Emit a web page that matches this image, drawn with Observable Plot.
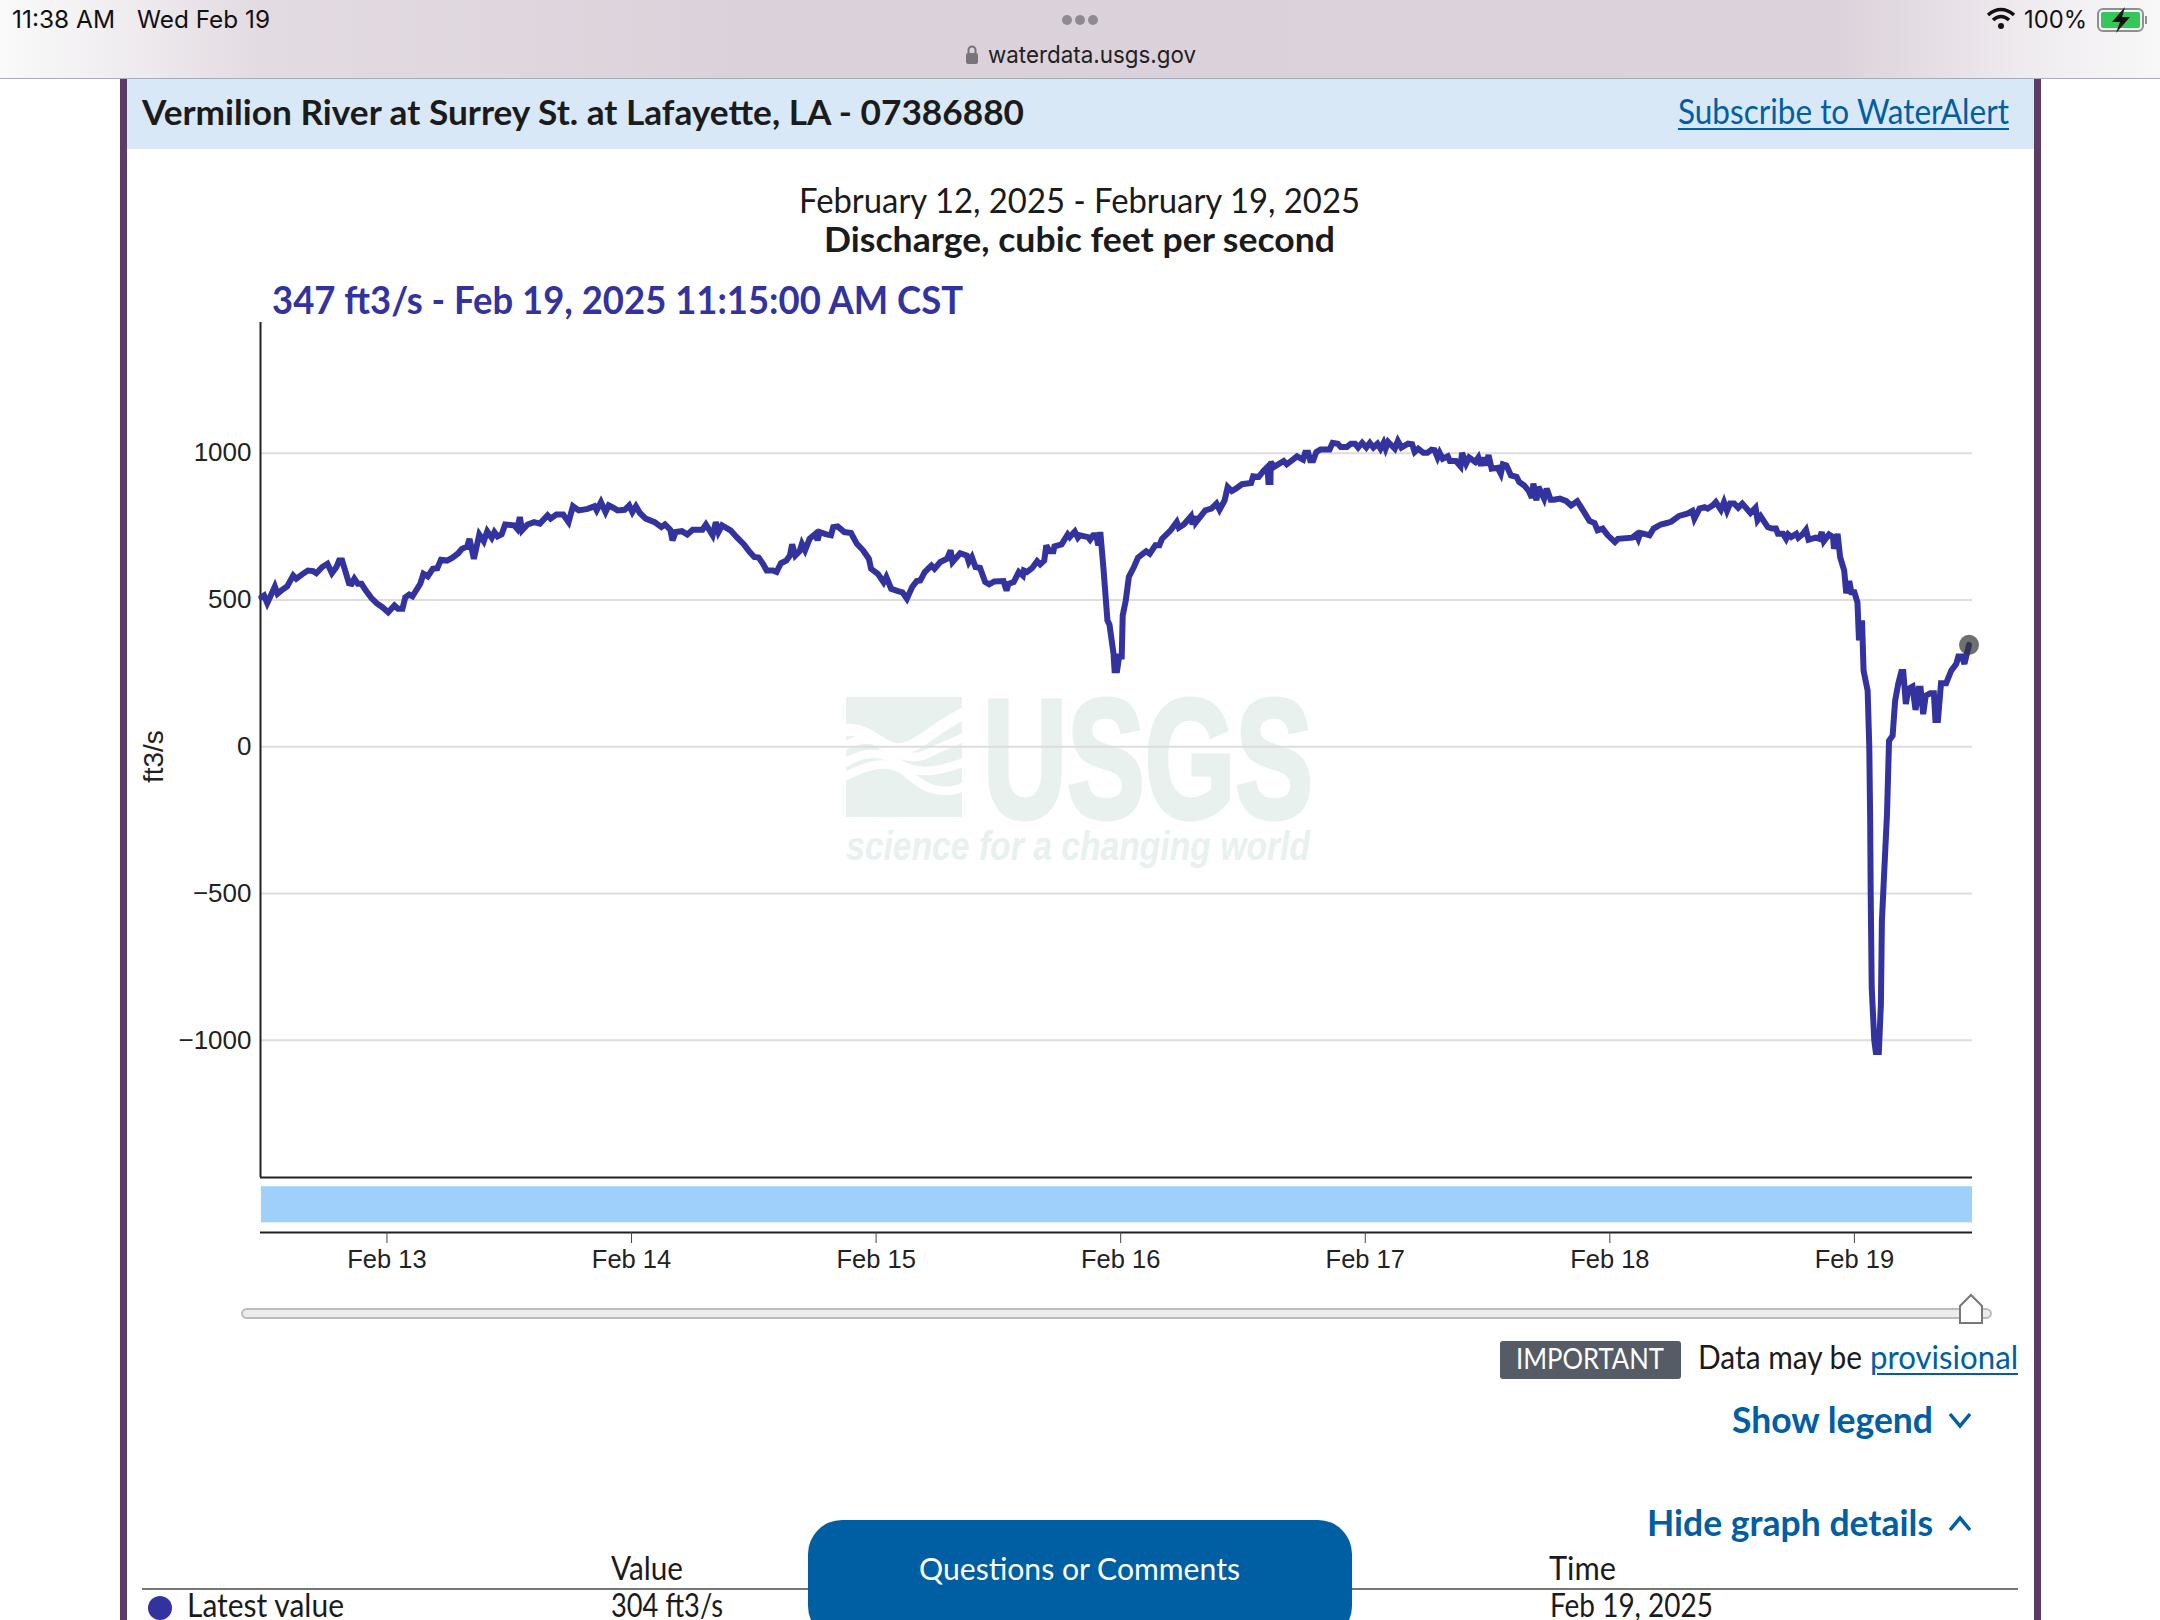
<!DOCTYPE html>
<html>
<head>
<meta charset="utf-8">
<script src="https://cdn.jsdelivr.net/npm/d3@7"></script>
<script src="https://cdn.jsdelivr.net/npm/@observablehq/plot@0.6"></script>
<style>
html,body{margin:0;padding:0;background:#fff;overflow:hidden;width:2160px;height:1620px}
#page{position:relative;width:2160px;height:1620px;overflow:hidden}
#page>div{position:absolute}
#chart{left:0;top:0;z-index:2}
#chart svg{display:block;max-width:none}
.t{white-space:nowrap;transform-origin:0 0;font-family:Lato,"Noto Sans",sans-serif;z-index:3}
</style>
</head>
<body>
<div id="page">
  <div style="left:0;top:0;width:2160px;height:78px;background:linear-gradient(90deg,#fafafa 0%,#f3f1f3 4%,#e3dbe2 12%,#dbd1da 35%,#dcd2db 85%,#f1eef1 95%,#f8f8f8 100%);border-bottom:1.5px solid #a9acb6"></div>
  <div style="left:120px;top:79px;width:7px;height:1541px;background:#5a3c64"></div>
  <div style="left:2034px;top:79px;width:7px;height:1541px;background:#5a3c64"></div>
  <div style="left:127px;top:79px;width:1907px;height:70px;background:#d9e8f6"></div>
  <div style="left:1500px;top:1341px;width:181px;height:38px;background:#565c65;border-radius:3px"></div>
  <div style="left:142px;top:1588px;width:1876px;height:2px;background:#757575"></div>
  <div style="left:148px;top:1596px;width:24px;height:24px;border-radius:50%;background:#3333a0"></div>
  <div style="left:808px;top:1520px;width:544px;height:120px;border-radius:34px;background:#005ea2;z-index:3"></div>
  <div id="chart"></div>
</div>
<script>
// Discharge readings: [hours since Feb 12 00:00 CST, ft3/s]
const feb12 = [[11.68,509],[11.94,515],[12.25,489],[12.6,515],[13.0,546],[13.26,521],[13.7,534],[14.2,546],[14.8,583],[15.1,572],[15.67,587],[16.24,600],[16.76,598],[17.07,591],[17.64,612],[18.16,623],[18.6,591],[19.04,612],[19.3,634],[19.6,634],[19.9,600],[20.27,557],[20.53,555],[20.8,572],[21.14,555],[21.5,555],[21.93,532],[22.46,507],[22.98,489],[23.55,475]];
const feb13 = [[24.12,458],[24.73,481],[25.08,470],[25.52,470],[25.8,509],[26.18,518],[26.5,512],[27.27,555],[27.58,589],[28.0,580],[28.5,606],[28.94,608],[29.3,637],[29.9,634],[30.43,644],[31.0,659],[31.35,674],[31.87,682],[32.1,708],[32.53,640],[33.06,723],[33.5,700],[33.84,734],[34.28,712],[34.54,731],[34.85,716],[35.25,723],[35.6,757],[36.47,754],[36.78,742],[37.04,782],[37.26,737],[37.79,757],[38.44,765],[39.0,760],[39.76,788],[40.06,777],[40.63,791],[41.29,791],[41.82,765],[42.25,819],[42.82,805],[43.7,810],[44.36,819],[44.58,805],[45.0,833],[45.45,799],[45.76,822],[46.2,814],[46.63,805],[47.33,807],[47.77,822]];
const feb14 = [[48.08,799],[48.43,819],[48.82,796],[49.39,777],[50.27,765],[50.93,748],[51.28,757],[51.8,739],[52.02,703],[52.33,731],[52.94,734],[53.47,723],[54.0,739],[54.96,739],[55.3,757],[55.96,720],[56.27,765],[56.53,731],[56.88,754],[57.72,737],[58.37,712],[59.03,689],[59.6,663],[60.04,646],[60.47,644],[60.9,623],[61.26,600],[61.87,600],[62.23,595],[62.66,625],[63.19,634],[63.54,651],[63.76,689],[64.07,651],[64.5,666],[64.72,691],[65.03,669],[65.47,708],[66.04,725],[66.26,703],[66.47,731],[67.13,723],[67.57,720],[67.79,748],[68.23,750],[68.88,731],[69.54,728],[70.11,691],[70.72,669],[71.29,640],[71.51,606]];
const feb15 = [[72.17,589],[72.74,560],[73.0,578],[73.48,538],[74.14,530],[74.58,526],[75.02,504],[75.54,544],[75.98,564],[76.33,566],[76.77,595],[77.43,617],[77.73,606],[78.3,629],[78.96,640],[79.31,669],[79.5,629],[80.25,659],[80.9,651],[81.1,629],[81.4,646],[81.75,612],[82.2,609],[82.7,561],[83.1,553],[83.6,563],[84.5,564],[84.8,532],[85.0,555],[85.5,561],[86.0,595],[86.4,583],[86.5,600],[86.8,595],[87.3,608],[87.8,632],[88.1,621],[88.5,634],[88.7,686],[89.0,666],[89.4,666],[89.5,682],[90.2,689],[90.8,723],[91.0,714],[91.5,733],[91.8,712],[92.0,720],[92.8,714],[93.0,705],[93.3,720],[93.6,720],[93.8,686],[94.0,731],[94.3,612],[94.7,430],[94.9,416],[95.3,316],[95.4,260],[95.65,260],[95.85,307]];
const feb16 = [[96.1,307],[96.2,447],[96.5,498],[96.8,578],[97.3,612],[97.7,644],[98.5,666],[98.85,657],[99.4,686],[99.8,686],[100.05,708],[100.9,737],[101.5,765],[101.7,746],[102.2,757],[102.9,785],[103.05,757],[103.35,785],[103.4,765],[104.3,805],[104.9,811],[105.4,828],[105.7,807],[106.2,839],[106.5,885],[106.9,871],[107.3,879],[107.9,894],[108.8,898],[109.0,921],[109.55,919],[110.05,941],[110.4,953],[110.5,902],[110.7,902],[110.72,970],[111.05,953],[112.0,973],[112.3,962],[112.9,978],[113.3,989],[113.9,978],[114.1,1001],[114.4,1001],[114.6,976],[114.9,976],[115.2,1004],[115.6,1012],[116.5,1012],[116.8,1035],[117.3,1032],[117.6,1021],[118.2,1021],[118.6,1032],[119.0,1032]];
const feb17 = [[119.3,1019],[119.7,1035],[120.1,1019],[120.45,1035],[120.8,1019],[121.2,1032],[121.5,1015],[121.8,1035],[122.0,1015],[122.25,1038],[122.9,1015],[123.2,1041],[123.55,1019],[124.2,1032],[124.6,1030],[124.85,1004],[125.2,1015],[125.7,1001],[126.1,1001],[126.5,1012],[126.8,1010],[127.1,985],[127.3,1001],[127.6,981],[128.1,989],[128.3,973],[128.9,973],[129.35,955],[129.5,1001],[129.9,964],[130.2,985],[130.8,970],[131.1,985],[131.35,958],[131.6,985],[131.8,958],[132.1,993],[132.4,947],[133.0,950],[133.3,930],[133.5,962],[133.85,958],[134.3,924],[134.85,919],[135.1,902],[135.6,890],[136.05,871],[136.35,848],[136.5,896],[136.8,839],[137.0,885],[137.55,845],[137.8,879],[138.2,841],[138.5,841],[139.1,845],[139.7,837],[140.2,822],[140.8,836],[141.4,803],[142.0,769],[142.5,762],[142.8,737],[143.3,743],[143.8,720]];
const feb18 = [[144.5,697],[144.8,708],[146.2,712],[146.6,723],[146.8,708],[147.0,728],[147.4,725],[147.9,720],[148.3,743],[149.0,757],[149.6,762],[150.05,767],[150.8,786],[151.6,794],[152.1,803],[152.3,777],[152.8,811],[153.3,816],[153.6,811],[154.1,822],[154.4,833],[154.9,807],[155.2,833],[155.5,803],[155.8,828],[156.2,828],[156.6,814],[157.0,828],[157.8,796],[158.3,814],[158.5,771],[158.8,785],[159.5,748],[159.9,743],[160.3,743],[160.5,725],[161.0,725],[161.3,708],[161.5,723],[161.8,714],[162.3,725],[162.5,712],[162.9,723],[163.25,739],[163.5,705],[164.2,712],[164.55,708],[164.8,731],[165.0,700],[165.5,723],[165.9,714],[166.0,674],[166.35,725],[166.6,646],[167.0,600],[167.2,523],[167.5,564],[167.7,526],[168.0,526]];
const feb19 = [[168.3,492],[168.45,362],[168.75,430],[168.9,259],[169.3,191],[169.46,0],[169.55,-252],[169.6,-503],[169.7,-821],[169.95,-1000],[170.1,-1040],[170.4,-1040],[170.6,-878],[170.7,-594],[170.9,-446],[171.2,-230],[171.4,20],[171.75,37],[172.0,157],[172.3,214],[172.6,254],[172.8,254],[173.05,145],[173.3,197],[173.7,205],[174.0,125],[174.3,197],[174.5,197],[174.75,111],[175.0,174],[175.45,182],[175.8,182],[175.95,91],[176.2,91],[176.5,216],[177.0,216],[177.5,259],[178.0,282],[178.2,307],[178.55,307],[178.8,282],[179.25,347]];
const latestHour = [179.25];
const latestValue = [347];
const yTicks = [-1000,-500,0,500,1000];
const dayTicks = [13,14,15,16,17,18,19];
const xDomainHours = [11.59,179.59];
const stripHours = [11.68,179.59];
const yDomain = [-1655,1445];
const plotFloor = [-1467.5];
const stripValues = [-1499,-1622];
const unitLabelValue = [-34];

const toDate = h => new Date(Date.UTC(2025,1,12) + h*3600e3);
const readings = [...feb12,...feb13,...feb14,...feb15,...feb16,...feb17,...feb18,...feb19]
  .map(([h,v]) => ({t:toDate(h), v}));
const xStart = toDate(xDomainHours[0]), xEnd = toDate(xDomainHours[1]);
const ticks = dayTicks.map(d => new Date(Date.UTC(2025,1,d)));

// faint USGS watermark, phone chrome icons, and the time slider drawn inside the SVG
function decor(){
  const g = d3.create("svg:g").attr("text-anchor","start");
  const wm = "#e8f1ee";
  const w = g.append("g");
  w.append("rect").attr("x",846).attr("y",697).attr("width",116).attr("height",120).attr("fill",wm);
  const waves = g.append("g").attr("transform","translate(820,680) scale(0.3333)").attr("fill","none").attr("stroke","#fff");
  [["M70 150 C150 140 180 208 235 208 C290 208 330 150 432 100",36],
   ["M70 200 C130 165 170 175 215 208 C250 235 300 240 340 212 L432 172",26],
   ["M70 252 C130 212 180 212 230 245 C280 282 340 282 432 247",26],
   ["M70 292 C130 262 190 235 250 270 C310 325 360 350 432 320",26]
  ].forEach(([d,sw]) => waves.append("path").attr("d",d).attr("stroke-width",sw));
  w.append("text").text("USGS").attr("x",983).attr("y",817).attr("fill",wm).attr("stroke",wm).attr("stroke-width",5)
    .attr("font-family","Liberation Sans").attr("font-weight",700).attr("font-size",168)
    .attr("textLength",330).attr("lengthAdjust","spacingAndGlyphs");
  w.append("text").text("science for a changing world").attr("x",846).attr("y",860).attr("fill",wm)
    .attr("font-family","Liberation Sans").attr("font-weight",700).attr("font-style","italic").attr("font-size",40)
    .attr("textLength",464).attr("lengthAdjust","spacingAndGlyphs");
  // slider
  g.append("rect").attr("x",242).attr("y",1309).attr("width",1749).attr("height",9).attr("rx",5)
    .attr("fill","#ececec").attr("stroke","#bcbcbc").attr("stroke-width",2);
  g.append("path").attr("d","M1960 1323 L1982 1323 L1982 1306 L1971 1295 L1960 1306 Z")
    .attr("fill","#fff").attr("stroke","#777").attr("stroke-width",2);
  // three dots
  [1067,1080,1093].forEach(x => g.append("circle").attr("cx",x).attr("cy",20).attr("r",5).attr("fill","#8e8a90"));
  // lock
  g.append("rect").attr("x",966).attr("y",53).attr("width",12).attr("height",11).attr("rx",2).attr("fill","#77757b");
  g.append("path").attr("d","M968.5 53 v-3 a3.5 3.5 0 0 1 7 0 v3").attr("fill","none").attr("stroke","#77757b").attr("stroke-width",2);
  // wifi
  const wifi = g.append("g").attr("fill","none").attr("stroke","#111").attr("stroke-width",3.6);
  ["M1988 15 Q2001 4 2014 15","M1993 20 Q2001 13 2009 20"].forEach(d => wifi.append("path").attr("d",d));
  g.append("circle").attr("cx",2001).attr("cy",26).attr("r",3).attr("fill","#111");
  // battery
  g.append("rect").attr("x",2098).attr("y",9).attr("width",45).attr("height",22).attr("rx",5).attr("fill","none").attr("stroke","#8f8f8f").attr("stroke-width",2);
  g.append("rect").attr("x",2101).attr("y",12).attr("width",39).attr("height",16).attr("rx",2).attr("fill","#34c759");
  g.append("rect").attr("x",2145).attr("y",16).attr("width",2).attr("height",8).attr("fill","#8f8f8f");
  g.append("path").attr("d","M2125 7 L2112 22 L2120 22 L2116 33 L2130 17 L2122 17 Z").attr("fill","#111");
  // chevrons
  const chev = g.append("g").attr("fill","none").attr("stroke","#005ea2").attr("stroke-width",3.5);
  chev.append("path").attr("d","M1950 1414 L1960 1426 L1970 1414");
  chev.append("path").attr("d","M1950 1530 L1960 1518 L1970 1530");
  return g.node();
}

const plot = Plot.plot({
  width:2160, height:1620,
  marginLeft:260, marginRight:188, marginTop:322, marginBottom:388,
  style:{fontFamily:"Liberation Sans",background:"transparent",color:"#222"},
  x:{type:"utc",domain:[xStart,xEnd],axis:null},
  y:{domain:yDomain,axis:null},
  marks:[
    decor,
    Plot.ruleY(yTicks,{stroke:"#dddddd",strokeWidth:2}),
    Plot.rect([{x1:toDate(stripHours[0]),x2:toDate(stripHours[1]),y1:stripValues[0],y2:stripValues[1]}],{x1:"x1",x2:"x2",y1:"y1",y2:"y2",fill:"#9fd0fb"}),
    Plot.ruleY(plotFloor,{stroke:"#222",strokeWidth:2}),
    Plot.ruleY([yDomain[0]],{stroke:"#222",strokeWidth:2}),
    Plot.ruleX([xStart],{y1:plotFloor[0],y2:yDomain[1],stroke:"#222",strokeWidth:2}),
    Plot.axisY({ticks:yTicks,tickFormat:d3.format("d"),tickSize:0,tickPadding:9,fontSize:26,label:null,anchor:"left"}),
    Plot.axisX({ticks,tickFormat:d3.utcFormat("%b %-d"),tickSize:11,tickPadding:6,fontSize:25.5,label:null,anchor:"bottom",stroke:"#444"}),
    Plot.text(["ft3/s"],{x:()=>xStart,y:()=>unitLabelValue[0],text:d=>d,rotate:-90,dx:-106,fontSize:28,fill:"#222"}),
    Plot.line(readings,{x:"t",y:"v",stroke:"#3333a0",strokeWidth:6,strokeLinejoin:"miter",strokeMiterlimit:3}),
    Plot.dot(latestHour.map((h,i)=>({t:toDate(h),v:latestValue[i]})),{x:"t",y:"v",r:10,fill:"#333",fillOpacity:0.7})
  ]
});
document.getElementById("chart").appendChild(plot);

function put(text,x0,x1,base,size,o={}){
  const d = document.createElement("div");
  d.className = "t";
  d.textContent = text;
  Object.assign(d.style,{left:x0+"px",top:"0px",fontSize:size+"px",fontWeight:o.w||400,color:o.c||"#1b1b1b",lineHeight:"normal"});
  if(o.f) d.style.fontFamily = o.f;
  if(o.u){d.style.textDecoration="underline";d.style.textUnderlineOffset="4px";d.style.textDecorationThickness="2px";}
  const strut = document.createElement("span");
  strut.style.cssText = "display:inline-block;width:0;height:0";
  d.appendChild(strut);
  document.getElementById("page").appendChild(d);
  const bl = strut.getBoundingClientRect().bottom - d.getBoundingClientRect().top;
  d.style.top = (base-bl)+"px";
  d.style.transform = `scaleX(${(x1-x0)/d.getBoundingClientRect().width})`;
}
const navy="#3333a0", blue="#005ea2", sys="Inter";
put("11:38 AM",12,115,28,24,{f:sys,c:"#111"});
put("Wed Feb 19",137,270,28,24,{f:sys,c:"#111"});
put("waterdata.usgs.gov",988,1196,63,24,{f:sys,c:"#222"});
put("100%",2024,2087,28,24,{f:sys,c:"#111"});
put("Vermilion River at Surrey St. at Lafayette, LA - 07386880",142,1024,125,35,{w:700});
put("Subscribe to WaterAlert",1678,2009,124,35,{c:blue,u:1});
put("February 12, 2025 - February 19, 2025",799,1360,213,34);
put("Discharge, cubic feet per second",824,1335,252,35,{w:700});
put("347 ft3/s - Feb 19, 2025 11:15:00 AM CST",272,963,314,38,{w:700,c:navy});
put("IMPORTANT",1516,1664,1369,29,{c:"#fff"});
put("Data may be",1698,1862,1369,32);
put("provisional",1870,2018,1369,32,{c:blue,u:1});
put("Show legend",1732,1933,1433,37,{w:700,c:blue});
put("Hide graph details",1647,1933,1536,37,{w:700,c:blue});
put("Value",611,683,1580,32);
put("Time",1549,1616,1580,32);
put("Latest value",187,344,1617,32);
put("304 ft3/s",611,723,1617,32);
put("Feb 19, 2025",1550,1713,1617,32);
put("Questions or Comments",919,1240,1580,31,{c:"#fff"});
</script>
</body>
</html>
